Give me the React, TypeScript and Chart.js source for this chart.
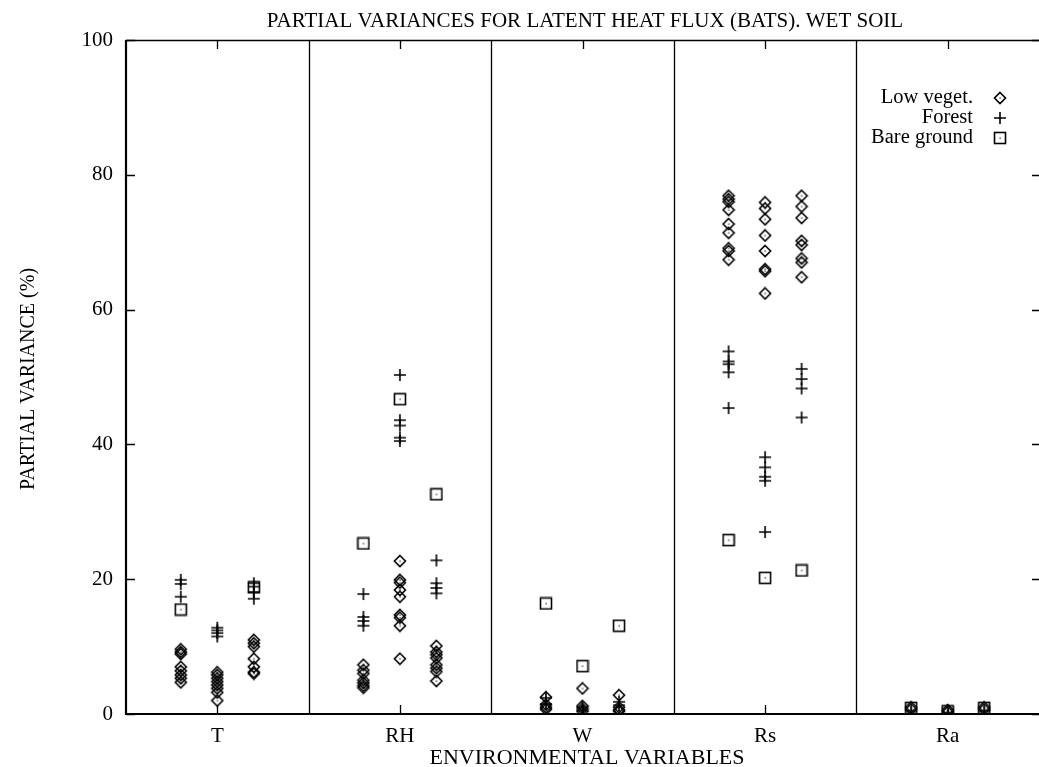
import React, { useEffect, useRef } from "react";
import { Chart, registerables } from "chart.js";

Chart.register(...registerables);

const categories = ["T", "RH", "W", "Rs", "Ra"];
const yTicks = [0, 20, 40, 60, 80, 100];
const chartTitle = "PARTIAL VARIANCES FOR LATENT HEAT FLUX (BATS). WET SOIL";
const xTitle = "ENVIRONMENTAL VARIABLES";
const yTitle = "PARTIAL VARIANCE (%)";
const seriesNames = ["Low veget.", "Forest", "Bare ground"];

// three runs per variable (left, middle, right)
const lowVegetT = [
  [9.6, 9.2, 8.9, 7.0, 6.4, 5.8, 5.3, 4.7],
  [6.2, 5.8, 5.3, 4.8, 4.3, 3.8, 3.2, 2.0],
  [11.0, 10.5, 10.0, 8.2, 7.0, 6.2, 6.0],
];
const lowVegetRH = [
  [7.3, 6.5, 6.0, 5.0, 4.6, 4.2, 3.9],
  [22.7, 19.9, 19.5, 18.4, 17.4, 14.7, 14.3, 13.1, 8.2],
  [10.1, 9.2, 8.8, 8.3, 7.3, 6.8, 6.3, 4.9],
];
const lowVegetW = [
  [2.5, 1.4, 1.0, 0.7],
  [3.8, 1.2, 0.8, 0.4],
  [2.8, 1.0, 0.6, 0.4],
];
const lowVegetRs = [
  [76.9, 76.4, 76.0, 74.8, 72.7, 71.4, 69.1, 68.7, 67.4],
  [75.9, 75.0, 73.4, 71.0, 68.7, 66.0, 65.7, 62.4],
  [76.9, 75.3, 73.6, 70.2, 69.6, 67.6, 67.0, 64.8],
];
const lowVegetRa = [
  [1.0, 0.7],
  [0.6, 0.3],
  [1.0, 0.7],
];

const forestT = [
  [19.9, 19.3, 17.4],
  [12.8, 12.4, 12.0, 11.5],
  [19.4, 18.9, 18.1, 17.1],
];
const forestRH = [
  [17.8, 14.4, 13.8, 13.1],
  [50.3, 43.6, 42.8, 41.0, 40.5],
  [22.8, 19.4, 18.7, 17.9],
];
const forestW = [
  [2.4, 1.5],
  [1.0, 0.5],
  [1.8, 1.3],
];
const forestRs = [
  [53.8, 52.3, 51.9, 50.7, 45.4],
  [38.1, 36.6, 35.2, 34.6, 27.0],
  [51.2, 49.7, 48.3, 44.0],
];
const forestRa = [[0.5], [0.2], [0.5]];

const bareT = [15.5, null, 18.8];
const bareRH = [25.3, 46.7, 32.6];
const bareW = [16.4, 7.1, 13.1];
const bareRs = [25.8, 20.2, 21.3];
const bareRa = [0.9, 0.4, 0.9];

const lowVeget = [lowVegetT, lowVegetRH, lowVegetW, lowVegetRs, lowVegetRa];
const forest = [forestT, forestRH, forestW, forestRs, forestRa];
const bare = [bareT, bareRH, bareW, bareRs, bareRa];

const runOffsets = [0.3, 0.5, 0.7];

const FONT = "'Liberation Serif', 'DejaVu Serif', serif";

function makeDiamond(): HTMLCanvasElement {
  const c = document.createElement("canvas");
  c.width = 14;
  c.height = 14;
  const g = c.getContext("2d")!;
  g.strokeStyle = "#000";
  g.lineWidth = 1.6;
  g.beginPath();
  g.moveTo(7, 1.5);
  g.lineTo(12.5, 7);
  g.lineTo(7, 12.5);
  g.lineTo(1.5, 7);
  g.closePath();
  g.stroke();
  g.fillStyle = "#000";
  g.fillRect(6.5, 6.5, 1.2, 1.2);
  return c;
}
function makeSquare(): HTMLCanvasElement {
  const c = document.createElement("canvas");
  c.width = 14;
  c.height = 14;
  const g = c.getContext("2d")!;
  g.strokeStyle = "#000";
  g.lineWidth = 1.6;
  g.strokeRect(1.5, 1.5, 11, 11);
  g.fillStyle = "#000";
  g.fillRect(6.5, 6.5, 1.2, 1.2);
  return c;
}
function makePlus(): HTMLCanvasElement {
  const c = document.createElement("canvas");
  c.width = 14;
  c.height = 14;
  const g = c.getContext("2d")!;
  g.strokeStyle = "#000";
  g.lineWidth = 1.6;
  g.beginPath();
  g.moveTo(1, 7);
  g.lineTo(13, 7);
  g.moveTo(7, 1);
  g.lineTo(7, 13);
  g.stroke();
  return c;
}

function buildPoints(src: number[][][]) {
  const pts: { x: number; y: number }[] = [];
  src.forEach((runs, ci) =>
    runs.forEach((vals, ri) =>
      vals.forEach((v) => pts.push({ x: ci + runOffsets[ri], y: v }))
    )
  );
  return pts;
}
function buildBare(src: (number | null)[][]) {
  const pts: { x: number; y: number }[] = [];
  src.forEach((runs, ci) =>
    runs.forEach((v, ri) => {
      if (v !== null) pts.push({ x: ci + runOffsets[ri], y: v });
    })
  );
  return pts;
}

export default function App() {
  const ref = useRef<HTMLCanvasElement>(null);
  useEffect(() => {
    const diamond = makeDiamond();
    const square = makeSquare();
    const plus = makePlus();
    const markers = [diamond, plus, square];

    const framePlugin = {
      id: "frame",
      beforeDatasetsDraw(chart: any) {
        const { ctx, chartArea } = chart;
        const { left, right, top, bottom } = chartArea;
        const xs = chart.scales.x;
        const ys = chart.scales.y;
        ctx.save();
        ctx.strokeStyle = "#000";
        // separators
        ctx.lineWidth = 1.3;
        for (let i = 1; i < categories.length; i++) {
          const px = Math.round(xs.getPixelForValue(i)) + 0.5;
          ctx.beginPath();
          ctx.moveTo(px, top);
          ctx.lineTo(px, bottom);
          ctx.stroke();
        }
        // ticks
        ctx.lineWidth = 1.3;
        yTicks.forEach((t) => {
          const py = Math.round(ys.getPixelForValue(t)) + 0.5;
          ctx.beginPath();
          ctx.moveTo(left, py);
          ctx.lineTo(left + 9, py);
          ctx.moveTo(right, py);
          ctx.lineTo(right - 7, py);
          ctx.stroke();
        });
        categories.forEach((_, i) => {
          const px = Math.round(xs.getPixelForValue(i + 0.5)) + 0.5;
          ctx.beginPath();
          ctx.moveTo(px, bottom);
          ctx.lineTo(px, bottom - 9);
          ctx.moveTo(px, top);
          ctx.lineTo(px, top + 9);
          ctx.stroke();
        });
        // frame (left, top, bottom; right edge falls outside the picture)
        ctx.lineWidth = 1.5;
        ctx.beginPath();
        ctx.moveTo(left, top + 0.5);
        ctx.lineTo(right + 10, top + 0.5);
        ctx.stroke();
        ctx.lineWidth = 2.2;
        ctx.beginPath();
        ctx.moveTo(left, top);
        ctx.lineTo(left, bottom);
        ctx.lineTo(right + 10, bottom);
        ctx.stroke();
        ctx.restore();
      },
      afterDraw(chart: any) {
        const { ctx } = chart;
        ctx.save();
        ctx.fillStyle = "#000";
        ctx.textAlign = "center";
        ctx.textBaseline = "alphabetic";
        ctx.font = `21px ${FONT}`;
        ctx.fillText(chartTitle, 585, 27);
        ctx.font = `22px ${FONT}`;
        ctx.fillText(xTitle, 587, 764);
        ctx.font = `20px ${FONT}`;
        ctx.save();
        ctx.translate(34, 379);
        ctx.rotate(-Math.PI / 2);
        ctx.fillText(yTitle, 0, 0);
        ctx.restore();
        // legend
        ctx.font = `20.5px ${FONT}`;
        ctx.textAlign = "right";
        ctx.textBaseline = "middle";
        seriesNames.forEach((name, i) => {
          const cy = 98 + i * 20;
          ctx.fillText(name, 973, cy);
          const m = markers[i];
          ctx.drawImage(m, 1000 - m.width / 2, cy - m.height / 2);
        });
        ctx.restore();
      },
    };

    const chart = new Chart(ref.current!, {
      type: "scatter",
      data: {
        datasets: [
          {
            label: seriesNames[0],
            data: buildPoints(lowVeget),
            pointStyle: diamond as any,
          },
          {
            label: seriesNames[1],
            data: buildPoints(forest),
            pointStyle: plus as any,
          },
          {
            label: seriesNames[2],
            data: buildBare(bare),
            pointStyle: square as any,
          },
        ],
      },
      options: {
        animation: false,
        responsive: false,
        devicePixelRatio: 1,
        layout: { padding: { top: 40, right: 4, left: 0, bottom: 0 } },
        plugins: {
          legend: { display: false },
          tooltip: { enabled: false },
          title: { display: false },
        },
        elements: { point: { radius: 6 } },
        scales: {
          x: {
            type: "linear",
            min: 0,
            max: categories.length,
            grid: { display: false, drawTicks: false },
            border: { display: false },
            afterBuildTicks: (s: any) => {
              s.ticks = categories.map((_, i) => ({ value: i + 0.5 }));
            },
            afterFit: (s: any) => {
              s.height = 53;
            },
            ticks: {
              autoSkip: false,
              maxRotation: 0,
              padding: 10,
              color: "#000",
              font: { family: FONT, size: 21 },
              callback: (_v: any, i: number) => categories[i],
            },
          },
          y: {
            min: 0,
            max: 100,
            grid: { display: false, drawTicks: false },
            border: { display: false },
            afterBuildTicks: (s: any) => {
              s.ticks = yTicks.map((v) => ({ value: v }));
            },
            afterFit: (s: any) => {
              s.width = 126;
            },
            ticks: {
              padding: 13,
              color: "#000",
              font: { family: FONT, size: 21 },
              callback: (v: any) => String(v),
            },
          },
        },
      },
      plugins: [framePlugin],
    });
    return () => chart.destroy();
  }, []);

  return (
    <div
      style={{
        position: "fixed",
        left: 0,
        top: 0,
        width: 1039,
        height: 767,
        overflow: "hidden",
        background: "#fff",
      }}
    >
      <canvas ref={ref} width={1046} height={767} style={{ display: "block" }} />
    </div>
  );
}
